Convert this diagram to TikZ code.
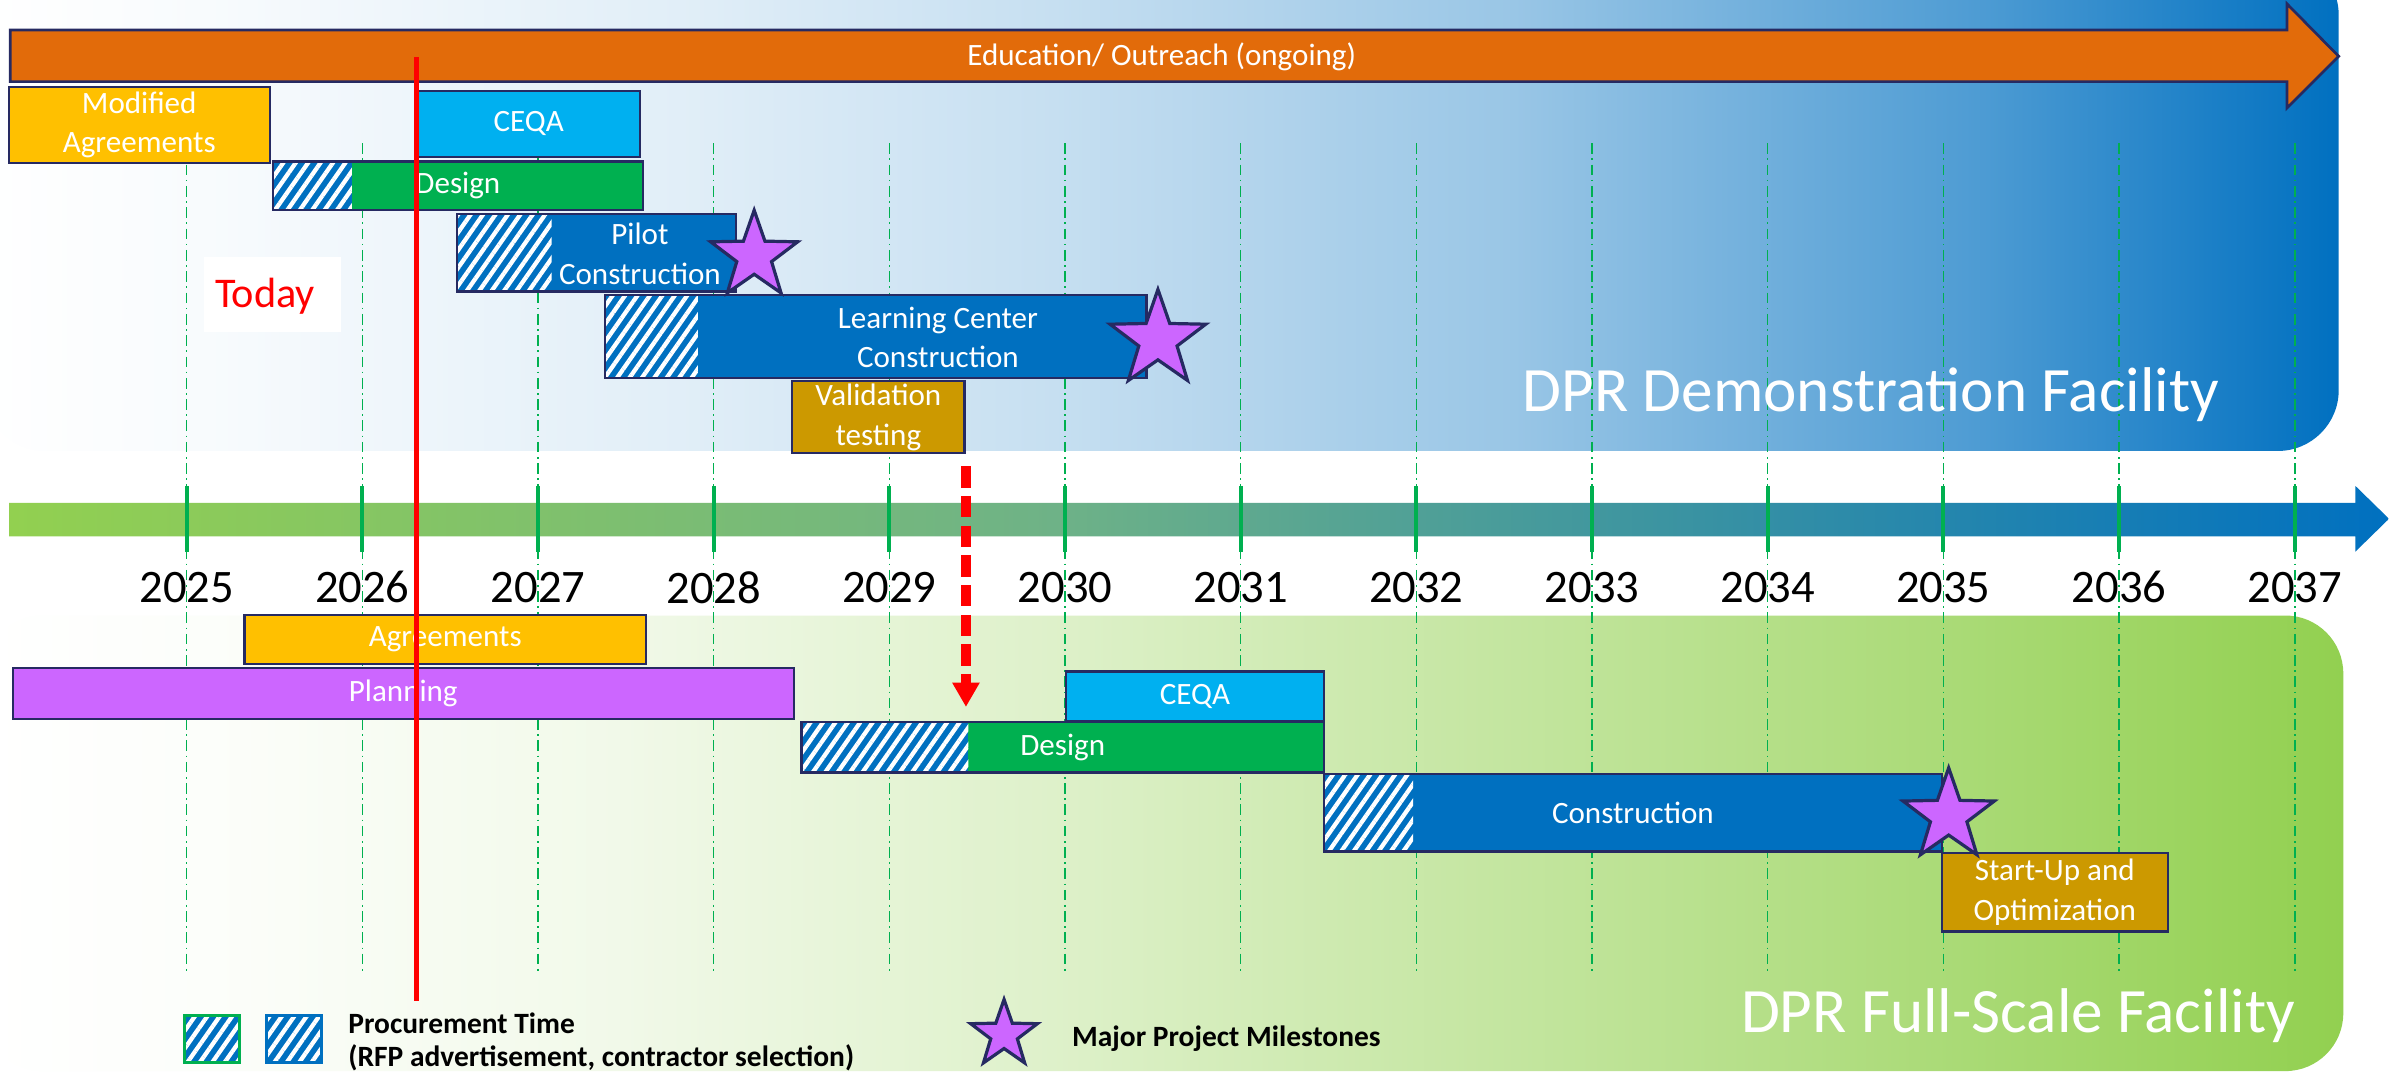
\documentclass[tikz,border=0pt]{standalone}
\usepackage{fontspec}
\setmainfont{Carlito}
\usetikzlibrary{shapes.geometric,patterns.meta,arrows.meta,calc}

\definecolor{navyA}{RGB}{38,42,98}
\definecolor{orangeA}{RGB}{226,107,10}
\definecolor{yellowA}{RGB}{255,192,0}
\definecolor{cyanA}{RGB}{0,176,240}
\definecolor{greenA}{RGB}{0,176,80}
\definecolor{blueA}{RGB}{0,112,192}
\definecolor{goldA}{RGB}{204,153,0}
\definecolor{purpleA}{RGB}{204,102,255}
\definecolor{limeA}{RGB}{146,208,80}
\definecolor{axmid}{RGB}{110,178,135}
\colorlet{demoB}{white!97!blueA}
\colorlet{demoC}{white!88!blueA}
\colorlet{demoD}{white!78!blueA}
\colorlet{demoE}{white!60!blueA}
\colorlet{demoF}{white!30!blueA}
\colorlet{fullB}{white!97!limeA}
\colorlet{fullC}{white!88!limeA}
\colorlet{fullD}{white!70!limeA}
\colorlet{fullE}{white!45!limeA}
\colorlet{fullF}{white!20!limeA}

\pgfdeclarehorizontalshading{demoshade}{100bp}{color(0bp)=(white); color(25bp)=(white); color(30bp)=(demoB); color(40bp)=(demoC); color(47.5bp)=(demoD); color(57.5bp)=(demoE); color(67.5bp)=(demoF); color(75bp)=(blueA); color(100bp)=(blueA)}
\pgfdeclarehorizontalshading{fullshade}{100bp}{color(0bp)=(white); color(25bp)=(white); color(30bp)=(fullB); color(38bp)=(fullC); color(47.5bp)=(fullD); color(57.5bp)=(fullE); color(67.5bp)=(fullF); color(75bp)=(limeA); color(100bp)=(limeA)}
\pgfdeclarehorizontalshading{axisshade}{100bp}{color(0bp)=(limeA); color(25bp)=(limeA); color(47bp)=(axmid); color(75bp)=(blueA); color(100bp)=(blueA)}

\begin{document}
\begin{tikzpicture}[x=0.1mm,y=-0.1mm,
    bar/.style={draw=navyA,line width=0.45pt,inner sep=0pt,outer sep=0pt,text=white,align=center,font=\fontsize{5.8}{7.4}\selectfont},
    lbl/.style={text=white,align=center,font=\fontsize{5.8}{7.4}\selectfont},
    hatchfill/.style={fill=blueA,postaction={pattern={Lines[angle=55,distance=1.9pt,line width=0.8pt]},pattern color=white}},
    hatch/.style={path picture={\fill[hatchfill] (path picture bounding box.south west) rectangle ([xshift=#1]path picture bounding box.north west);}},
    milestone/.style={star,star points=5,star point ratio=2.5,draw=navyA,fill=purpleA,line width=0.6pt,inner sep=0pt},
    yeargrid/.style={greenA,line width=0.3pt,dash pattern=on 0.7mm off 0.3mm on 0.1mm off 0.3mm},
    yeartick/.style={greenA,line width=0.74pt},
    yearlbl/.style={font=\fontsize{8.7}{10}\selectfont},
    facility/.style={text=white,anchor=base,font=\fontsize{11.8}{13}\selectfont},
    legendtxt/.style={font=\fontsize{5.5}{6.2}\selectfont\bfseries,align=left},
    droparrow/.style={red,line width=1.7pt,dash pattern=on 1.4mm off 0.55mm,-{Triangle[length=1.6mm,width=1.7mm]}}]
  \useasboundingbox (0,0) rectangle (1568,710);
  \fill[white] (0,0) rectangle (1568,710);
  \begin{scope}\clip (0,0) rectangle (1568,710);
  % facility panels
  \shade[shading=demoshade,rounded corners=4mm] (-10,-30) rectangle (1535,296);
  \shade[shading=fullshade,rounded corners=3.8mm] (-10,404) rectangle (1538,703);
  \end{scope}
  % years
  \foreach \yr [count=\i from 0] in {2025,...,2037}
    \draw[yeargrid] (122.5+115.3*\i,94) -- (122.5+115.3*\i,637);
  \shade[shading=axisshade] (6,330) -- (1546,330) -- (1546,319) -- (1568,340.5) -- (1546,362) -- (1546,352) -- (6,352) -- cycle;
  \foreach \yr [count=\i from 0] in {2025,...,2037}{
    \draw[yeartick] (122.5+115.3*\i,319) -- (122.5+115.3*\i,362);
    \node[yearlbl] (yr\yr) at (122.5+115.3*\i,385.5) {\yr};
  }
  \filldraw[fill=orangeA,draw=navyA,line width=0.5pt] (6.7,19.7) -- (1501,19.7) -- (1501,2.5) -- (1535,37) -- (1501,71) -- (1501,53.6) -- (6.7,53.6) -- cycle;
  \node[lbl] (eduT) at (762.5,37) {Education/ Outreach (ongoing)};
  \fill[white] (134,168.5) rectangle (224,218);
  \node[text=red,anchor=base,font=\fontsize{7.9}{9}\selectfont] (today) at (174,202) {Today};

  % demonstration facility
  \node[bar,fill=yellowA,minimum width=17.13mm,minimum height=5mm] (modAgr) at (91.4,82) {Modified\\Agreements};
  \node[bar,fill=cyanA,minimum width=14.6mm,minimum height=4.35mm] (ceqaA) at (347,81.3) {CEQA};
  \node[bar,fill=greenA,hatch=5.2mm,minimum width=24.3mm,minimum height=3.2mm] (dsgnA) at (300.5,122) {Design};
  \node[bar,fill=blueA,hatch=6.2mm,minimum width=18.3mm,minimum height=5.08mm] (pilot) at (391.5,166) {};
  \node[lbl] (pilotT) at (420,166.6) {Pilot\\Construction};
  \node[bar,fill=blueA,hatch=6.1mm,minimum width=35.56mm,minimum height=5.44mm] (lrnCtr) at (574.8,220.8) {};
  \node[lbl] (lrnCtrT) at (615.6,221.5) {Learning Center\\Construction};
  \node[bar,fill=goldA,minimum width=11.3mm,minimum height=4.75mm] (valid) at (576.5,273.75) {Validation\\testing};
  \node[facility] (demoT) at (1228,270) {DPR Demonstration Facility};

  % full-scale facility
  \node[bar,fill=yellowA,minimum width=26.37mm,minimum height=3.24mm] (agrB) at (292.2,419.8) {Agreements};
  \node[bar,fill=purpleA,minimum width=51.26mm,minimum height=3.34mm] (plan) at (264.7,455.3) {Planning};
  \node[bar,fill=cyanA,minimum width=16.94mm,minimum height=3.23mm] (ceqaB) at (784.3,456.9) {CEQA};
  \node[bar,fill=greenA,hatch=10.95mm,minimum width=34.3mm,minimum height=3.3mm] (dsgnB) at (697.5,490.5) {Design};
  \node[bar,fill=blueA,hatch=5.85mm,minimum width=40.55mm,minimum height=5.1mm] (cons) at (1071.75,533.5) {Construction};
  \node[bar,fill=goldA,minimum width=14.83mm,minimum height=5.15mm] (start) at (1348.65,585.75) {Start-Up and\\Optimization};
  \node[facility] (fullT) at (1324.5,677.7) {DPR Full-Scale Facility};

  % milestones
  \node[milestone,minimum size=6mm] (msPilot) at (495,168) {};
  \node[milestone,minimum size=6.6mm] (msLrn) at (760,223) {};
  \node[milestone,minimum size=6.3mm] (msCons) at (1279,535.5) {};

  \draw[red,line width=0.95pt] (273.6,37.6) -- (273.6,657);
  \coordinate (dropTop) at ($(valid.south east)+(1,8.5)$);
  \draw[droparrow] (dropTop) -- ($(dropTop |- dsgnB.north)+(0,-10)$);

  % legend
  \node[bar,draw=greenA,line width=0.6pt,hatch=3.6mm,minimum width=3.6mm,minimum height=3.12mm] (procG) at (139,682) {};
  \node[bar,draw=blueA,line width=0.6pt,hatch=3.6mm,minimum width=3.6mm,minimum height=3.12mm] (procB) at (193,682) {};
  \node[legendtxt,anchor=west,inner sep=0pt] (procT) at (228,684) {Procurement Time\\(RFP advertisement, contractor selection)};
  \node[milestone,minimum size=4.6mm] (msKey) at (659,679) {};
  \node[legendtxt,anchor=base west,inner sep=0pt] (msKeyT) at (703,687) {Major Project Milestones};
\end{tikzpicture}
\end{document}
